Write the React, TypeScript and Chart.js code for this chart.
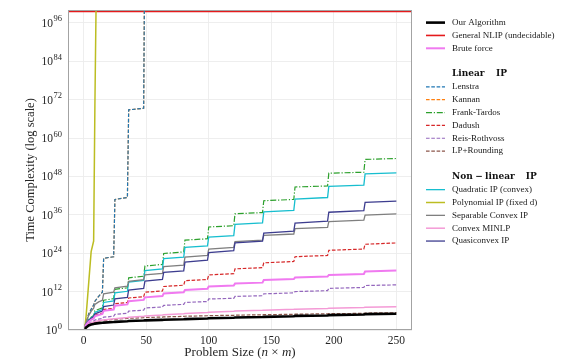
import React, { useEffect, useRef } from 'react';
import { Chart, registerables } from 'chart.js';

Chart.register(...registerables);

// Problem sizes (n × m) at which the curves were read
const sizes = [1, 2, 3, 4, 6, 8, 9, 12, 15, 16, 24, 25, 35, 36, 48, 49, 63, 64, 80, 81, 99, 100, 120, 121, 143, 144, 168, 169, 195, 196, 224, 225, 250];
const xTickValues = [0, 50, 100, 150, 200, 250];
const yTickExponents = [0, 12, 24, 36, 48, 60, 72, 84, 96];

// log10 of time complexity, one value per size
const ourAlgorithm = [0.3, 0.8, 1.1, 1.4, 1.7, 1.9, 2.0, 2.15, 2.25, 2.3, 2.5, 2.55, 2.75, 2.8, 2.95, 3.0, 3.15, 3.2, 3.35, 3.4, 3.6, 3.65, 3.85, 3.9, 4.05, 4.1, 4.3, 4.4, 4.55, 4.65, 4.85, 4.95, 5.1];
const bruteForce = [1.0, 1.6, 2.1, 2.6, 3.2, 3.6, 4.3, 4.7, 5.0, 6.0, 6.4, 7.6, 8.0, 9.0, 9.4, 10.2, 10.6, 11.4, 11.8, 12.5, 12.9, 13.6, 13.9, 14.5, 14.8, 15.6, 15.9, 16.4, 16.7, 17.2, 17.5, 18.3, 18.6];
const lenstra = [1.2, 2.5, 3.6, 5.0, 6.5, 7.8, 9.0, 10.5, 11.8, 22.4, 22.9, 40.8, 41.4, 68.8, 69.3, 130, null, null, null, null, null, null, null, null, null, null, null, null, null, null, null, null, null];
const kannan = [1.2, 2.5, 3.6, 5.0, 6.5, 7.8, 9.0, 10.5, 11.8, 22.4, 22.9, 40.8, 41.4, 68.8, 69.3, 130, null, null, null, null, null, null, null, null, null, null, null, null, null, null, null, null, null];
const frankTardos = [1.0, 1.9, 2.6, 3.3, 4.0, 4.5, 6.0, 6.5, 6.9, 9.3, 9.8, 12.7, 13.2, 16.3, 16.8, 20.0, 20.5, 23.9, 24.4, 28.1, 28.5, 32.2, 32.6, 36.3, 36.7, 40.4, 40.8, 44.7, 45.0, 49.0, 49.3, 53.3, 53.6];
const dadush = [1.0, 1.7, 2.3, 2.9, 3.5, 3.9, 4.6, 5.0, 5.3, 6.4, 6.8, 8.2, 8.6, 10.0, 10.4, 11.8, 12.2, 13.6, 14.0, 15.4, 15.8, 17.2, 17.6, 19.1, 19.5, 21.0, 21.4, 22.9, 23.3, 24.9, 25.3, 26.8, 27.2];
const reisRothvoss = [0.8, 1.3, 1.7, 2.1, 2.5, 2.8, 3.1, 3.4, 3.6, 4.0, 4.3, 4.9, 5.2, 5.9, 6.2, 6.9, 7.2, 7.7, 8.0, 8.6, 8.9, 9.7, 9.9, 10.5, 10.7, 11.3, 11.6, 12.0, 12.3, 13.0, 13.3, 13.9, 14.1];
const lpRounding = [0.5, 1.0, 1.4, 1.7, 2.1, 2.4, 2.5, 2.75, 2.9, 3.0, 3.3, 3.35, 3.6, 3.65, 3.85, 3.9, 4.05, 4.1, 4.25, 4.3, 4.45, 4.5, 4.6, 4.65, 4.75, 4.8, 4.9, 4.95, 5.05, 5.1, 5.2, 5.3, 5.4];
const quadraticIP = [1.0, 1.8, 2.5, 3.1, 3.8, 4.3, 5.5, 6.0, 6.4, 8.6, 9.1, 11.6, 12.1, 15.0, 15.5, 18.6, 19.1, 22.3, 22.8, 25.8, 26.3, 29.0, 29.5, 33.0, 33.5, 36.9, 37.4, 40.9, 41.4, 44.9, 45.3, 48.8, 49.1];
const polynomialIP = [1.0, 4.5, 9.5, 14.5, 24.5, 27.8, 70, 170, null, null, null, null, null, null, null, null, null, null, null, null, null, null, null, null, null, null, null, null, null, null, null, null, null];
const separableIP = [1.3, 2.5, 3.5, 4.5, 5.8, 6.8, 8.0, 8.8, 9.3, 11.3, 11.8, 13.2, 13.7, 15.2, 15.7, 17.2, 17.7, 19.8, 20.3, 22.8, 23.3, 25.3, 25.8, 27.6, 28.1, 29.6, 30.0, 31.7, 32.1, 33.9, 34.3, 35.9, 36.3];
const convexMINLP = [0.5, 1.1, 1.5, 1.8, 2.2, 2.5, 2.6, 2.9, 3.1, 3.15, 3.5, 3.55, 3.9, 3.95, 4.3, 4.35, 4.7, 4.75, 5.1, 5.15, 5.5, 5.55, 5.85, 5.9, 6.15, 6.2, 6.45, 6.5, 6.75, 6.8, 7.05, 7.1, 7.3];
const quasiconvexIP = [1.0, 1.8, 2.5, 3.0, 3.7, 4.2, 5.0, 5.5, 5.9, 7.3, 7.8, 9.7, 10.2, 12.5, 13.0, 15.3, 15.8, 18.0, 18.5, 21.2, 21.8, 24.2, 24.8, 27.2, 27.8, 30.3, 30.9, 33.4, 34.0, 36.8, 37.3, 39.9, 40.3];
// General NLIP is undecidable: drawn as a ceiling across the whole axis
const nlipSizes = [-12.5, 262.5];
const nlipLevel = [99.55, 99.55];

type Series = { label: string; xs: number[]; values: (number | null)[]; color: string; width: number; dash: number[]; z: number };

const DASH = [3.6, 1.7];
const DASHDOT = [6, 1.8, 1.2, 1.8];

const series: Series[] = [
  { label: 'Our Algorithm', xs: sizes, values: ourAlgorithm, color: '#000000', width: 2.6, dash: [], z: 20 },
  { label: 'General NLIP (undecidable)', xs: nlipSizes, values: nlipLevel, color: '#e41a1c', width: 1.6, dash: [], z: 1 },
  { label: 'Brute force', xs: sizes, values: bruteForce, color: '#f07af0', width: 2.0, dash: [], z: 15 },
  { label: 'Lenstra', xs: sizes, values: lenstra, color: '#1f77b4', width: 1.2, dash: DASH, z: 3 },
  { label: 'Kannan', xs: sizes, values: kannan, color: '#ff7f0e', width: 1.2, dash: DASH, z: 2 },
  { label: 'Frank-Tardos', xs: sizes, values: frankTardos, color: '#2ca02c', width: 1.2, dash: DASHDOT, z: 4 },
  { label: 'Dadush', xs: sizes, values: dadush, color: '#d62728', width: 1.2, dash: DASH, z: 5 },
  { label: 'Reis-Rothvoss', xs: sizes, values: reisRothvoss, color: '#9467bd', width: 1.2, dash: DASH, z: 6 },
  { label: 'LP+Rounding', xs: sizes, values: lpRounding, color: '#8c564b', width: 1.2, dash: DASH, z: 7 },
  { label: 'Quadratic IP (convex)', xs: sizes, values: quadraticIP, color: '#17becf', width: 1.3, dash: [], z: 8 },
  { label: 'Polynomial IP (fixed d)', xs: sizes, values: polynomialIP, color: '#bcbd22', width: 1.5, dash: [], z: 9 },
  { label: 'Separable Convex IP', xs: sizes, values: separableIP, color: '#7f7f7f', width: 1.3, dash: [], z: 10 },
  { label: 'Convex MINLP', xs: sizes, values: convexMINLP, color: '#f49ad6', width: 1.5, dash: [], z: 11 },
  { label: 'Quasiconvex IP', xs: sizes, values: quasiconvexIP, color: '#3d3d8f', width: 1.3, dash: [], z: 12 },
];

const legendRows: string[] = [
  'Our Algorithm', 'General NLIP (undecidable)', 'Brute force', '',
  '#linear', 'Lenstra', 'Kannan', 'Frank-Tardos', 'Dadush', 'Reis-Rothvoss', 'LP+Rounding', '',
  '#nonlinear', 'Quadratic IP (convex)', 'Polynomial IP (fixed d)', 'Separable Convex IP', 'Convex MINLP', 'Quasiconvex IP',
];
const headerParts: Record<string, [string, number][]> = {
  '#linear': [['Linear', 11.5], ['IP', 0]],
  '#nonlinear': [['Non', 2.4], ['\u2212', 2.4], ['linear', 11], ['IP', 0]],
};

const SERIF = '"Liberation Serif", "Times New Roman", serif';

const decorPlugin = {
  id: 'decor',
  afterDraw(chart: any) {
    const { ctx, chartArea: a } = chart;
    const xs = chart.scales.x;
    const ys = chart.scales.y;
    ctx.save();
    // frame
    ctx.strokeStyle = '#a3a3a3';
    ctx.lineWidth = 1;
    ctx.setLineDash([]);
    ctx.strokeRect(a.left + 0.5, a.top + 0.5, a.right - a.left - 1, a.bottom - a.top - 1);

    // y tick labels 10^k
    ctx.fillStyle = '#262626';
    ctx.textBaseline = 'alphabetic';
    ctx.textAlign = 'left';
    for (const e of yTickExponents) {
      const py = ys.getPixelForValue(Math.pow(10, e));
      const sup = String(e);
      ctx.font = `8.5px ${SERIF}`;
      const sw = ctx.measureText(sup).width;
      ctx.font = `11.5px ${SERIF}`;
      const bw = ctx.measureText('10').width;
      const right = a.left - 6;
      ctx.fillText('10', right - sw - bw - 0.5, py + 4);
      ctx.font = `8.5px ${SERIF}`;
      ctx.fillText(sup, right - sw, py - 1.5);
    }

    // x tick labels
    ctx.font = `11.5px ${SERIF}`;
    ctx.textAlign = 'center';
    for (const v of xTickValues) {
      ctx.fillText(String(v), xs.getPixelForValue(v), a.bottom + 13.5);
    }

    // x title with italic n and m
    const parts: [string, string][] = [
      ['Problem Size (', 'normal'], ['n', 'italic'], [' \u00d7 ', 'normal'], ['m', 'italic'], [')', 'normal'],
    ];
    ctx.textAlign = 'left';
    let total = 0;
    const widths: number[] = [];
    for (const [t, st] of parts) {
      ctx.font = `${st} 13px ${SERIF}`;
      const w = ctx.measureText(t).width;
      widths.push(w);
      total += w;
    }
    let cx = (a.left + a.right) / 2 - total / 2;
    parts.forEach(([t, st], i) => {
      ctx.font = `${st} 13px ${SERIF}`;
      ctx.fillText(t, cx, a.bottom + 25.5);
      cx += widths[i];
    });

    // y title
    ctx.save();
    ctx.translate(33.5, (a.top + a.bottom) / 2);
    ctx.rotate(-Math.PI / 2);
    ctx.textAlign = 'center';
    ctx.font = `12.5px ${SERIF}`;
    ctx.fillText('Time Complexity (log scale)', 0, 0);
    ctx.restore();

    // legend
    const lx0 = a.right + 14;
    const lx1 = a.right + 33;
    const tx = a.right + 40;
    const rowH = 12.85;
    const y0 = a.top + 12.6;
    legendRows.forEach((row, i) => {
      const y = y0 + i * rowH;
      if (!row) return;
      if (row.startsWith('#')) {
        ctx.font = `bold 9px "DejaVu Serif", serif`;
        ctx.fillStyle = '#111';
        ctx.textBaseline = 'middle';
        ctx.textAlign = 'left';
        let hx = tx;
        for (const [t, gap] of headerParts[row]) {
          ctx.fillText(t, hx, y);
          hx += ctx.measureText(t).width + gap;
        }
        return;
      }
      const s = series.find((q) => q.label === row)!;
      ctx.strokeStyle = s.color;
      ctx.lineWidth = s.width;
      ctx.setLineDash(s.dash);
      ctx.beginPath();
      ctx.moveTo(lx0, y);
      ctx.lineTo(lx1, y);
      ctx.stroke();
      ctx.setLineDash([]);
      ctx.font = `9px ${SERIF}`;
      ctx.fillStyle = '#1a1a1a';
      ctx.textBaseline = 'middle';
      ctx.textAlign = 'left';
      ctx.fillText(row, tx, y);
    });
    ctx.restore();
  },
};

export default function App() {
  const ref = useRef<HTMLCanvasElement | null>(null);
  useEffect(() => {
    document.body.style.margin = '0';
    const canvas = ref.current!;
    const datasets = series.map((s) => ({
      label: s.label,
      data: s.xs.map((x, i) => ({ x, y: s.values[i] == null ? null : Math.pow(10, s.values[i] as number) })),
      borderColor: s.color,
      backgroundColor: s.color,
      borderWidth: s.width,
      borderDash: s.dash,
      pointRadius: 0,
      tension: 0,
      fill: false,
      spanGaps: false,
      order: 100 - s.z,
    }));
    const chart = new Chart(canvas, {
      type: 'line',
      data: { datasets } as any,
      options: {
        animation: false,
        responsive: false,
        devicePixelRatio: 1,
        layout: { padding: { left: 0, right: 162, top: 10, bottom: 0 } },
        plugins: { legend: { display: false }, tooltip: { enabled: false } },
        scales: {
          x: {
            type: 'linear',
            min: -12.5,
            max: 262.5,
            ticks: { display: false },
            grid: { color: '#ececec', lineWidth: 0.9, drawTicks: false },
            border: { display: false },
            afterBuildTicks: (s: any) => { s.ticks = xTickValues.map((v) => ({ value: v })); },
            afterFit: (s: any) => { s.height = 30; },
          },
          y: {
            type: 'logarithmic',
            min: 1,
            max: 1e100,
            ticks: { display: false },
            grid: { color: '#ececec', lineWidth: 0.9, drawTicks: false },
            border: { display: false },
            afterBuildTicks: (s: any) => { s.ticks = yTickExponents.map((e) => ({ value: Math.pow(10, e) })); },
            afterFit: (s: any) => { s.width = 68; },
          },
        },
      } as any,
      plugins: [decorPlugin],
    });
    return () => chart.destroy();
  }, []);
  return (
    <div style={{ width: 574, height: 360, position: 'relative', background: '#fff' }}>
      <canvas ref={ref} width={574} height={360} style={{ width: 574, height: 360, display: 'block' }} />
    </div>
  );
}
